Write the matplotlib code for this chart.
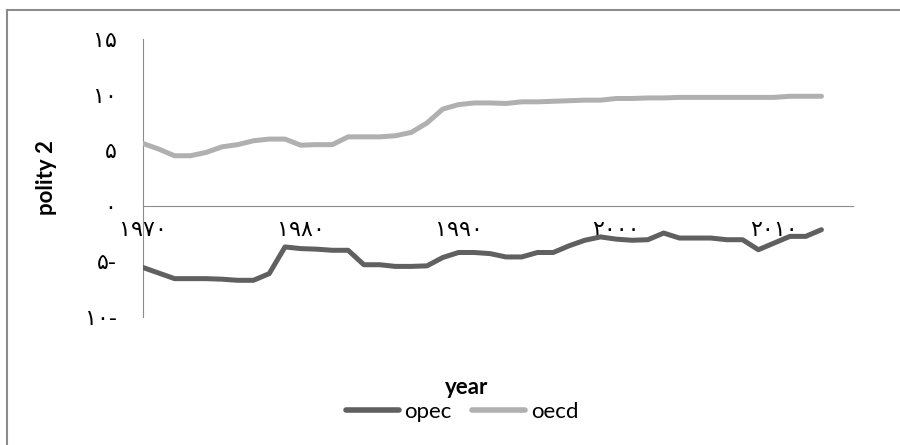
"""
Polity 2 scores of OPEC and OECD countries, 1970-2013
"""

import matplotlib
matplotlib.use('Agg')
import matplotlib.pyplot as plt
from matplotlib.lines import Line2D

years = list(range(1970, 2014))
opec = [-5.55, -6.05, -6.55, -6.55, -6.55, -6.6, -6.7, -6.7, -6.1, -3.7,
        -3.85, -3.9, -4.0, -4.0, -5.3, -5.3, -5.45, -5.45, -5.4, -4.65,
        -4.2, -4.2, -4.3, -4.6, -4.6, -4.2, -4.2, -3.6, -3.1, -2.8,
        -3.0, -3.1, -3.05, -2.45, -2.9, -2.9, -2.9, -3.05, -3.05, -3.95,
        -3.35, -2.75, -2.75, -2.15]
oecd = [5.6, 5.1, 4.5, 4.5, 4.8, 5.3, 5.5, 5.85, 6.0, 6.0,
        5.45, 5.5, 5.5, 6.2, 6.2, 6.2, 6.3, 6.6, 7.45, 8.7,
        9.1, 9.25, 9.25, 9.2, 9.35, 9.35, 9.4, 9.45, 9.5, 9.5,
        9.65, 9.65, 9.7, 9.7, 9.75, 9.75, 9.75, 9.75, 9.75, 9.75,
        9.75, 9.85, 9.85, 9.85]

# tick labels in Persian digits, written in visual order
xticks = [1970, 1980, 1990, 2000, 2010]
xlabels = ['۱۹۷۰', '۱۹۸۰', '۱۹۹۰', '۲۰۰۰', '۲۰۱۰']
yticks = [-10, -5, 0, 5, 10, 15]
ylabels = ['۱۰-', '۵-', '۰', '۵', '۱۰', '۱۵']

plt.rcParams['font.family'] = ['Lato', 'DejaVu Sans']

fig = plt.figure(figsize=(9, 4.45), dpi=100)
ax = fig.add_axes([143 / 900, 1 - 317 / 445, 710 / 900, 278 / 445])

opec_color = '#606060'
oecd_color = '#b0b0b0'
ax.plot(years, opec, color=opec_color, lw=3.6, solid_capstyle='round', zorder=3)
ax.plot(years, oecd, color=oecd_color, lw=3.6, solid_capstyle='round', zorder=3)

ax.set_xlim(1970, 2015)
ax.set_ylim(-10, 15)

for side in ['top', 'right']:
    ax.spines[side].set_visible(False)
ax.spines['left'].set_color('#8c8c8c')
ax.spines['bottom'].set_color('#8c8c8c')
ax.spines['bottom'].set_position(('data', 0))

ax.set_xticks(xticks)
ax.set_xticklabels(xlabels, family=['DejaVu Sans'], fontsize=16)
ax.set_yticks(yticks)
ax.set_yticklabels(ylabels, family=['DejaVu Sans'], fontsize=16)
ax.tick_params(axis='x', length=0, pad=10)
ax.tick_params(axis='y', length=0, pad=19)

ax.set_ylabel('polity 2', fontsize=16, fontweight='bold')
ax.yaxis.set_label_coords(-0.121, 0.5)

# year title and legend below the plot
fig.text(467 / 900, 1 - 388 / 445, 'year', ha='center', va='center',
         fontsize=16, fontweight='bold')
handles = [Line2D([], [], color=opec_color, lw=4, solid_capstyle='round'),
           Line2D([], [], color=oecd_color, lw=4, solid_capstyle='round')]
fig.legend(handles, ['opec', 'oecd'], loc='center',
           bbox_to_anchor=(462 / 900, 1 - 412 / 445), ncol=2, frameon=False,
           fontsize=16, handlelength=2.4, handletextpad=0.25,
           columnspacing=0.9, borderpad=0)

# outer chart border (top and left edges visible)
fig.add_artist(Line2D([7 / 900, 7 / 900], [0, 1 - 10 / 445],
                      transform=fig.transFigure, color='#8c8c8c', lw=1.5))
fig.add_artist(Line2D([7 / 900, 1], [1 - 10 / 445, 1 - 10 / 445],
                      transform=fig.transFigure, color='#8c8c8c', lw=1.5))

fig.savefig('out.png', dpi=100, facecolor='white')
